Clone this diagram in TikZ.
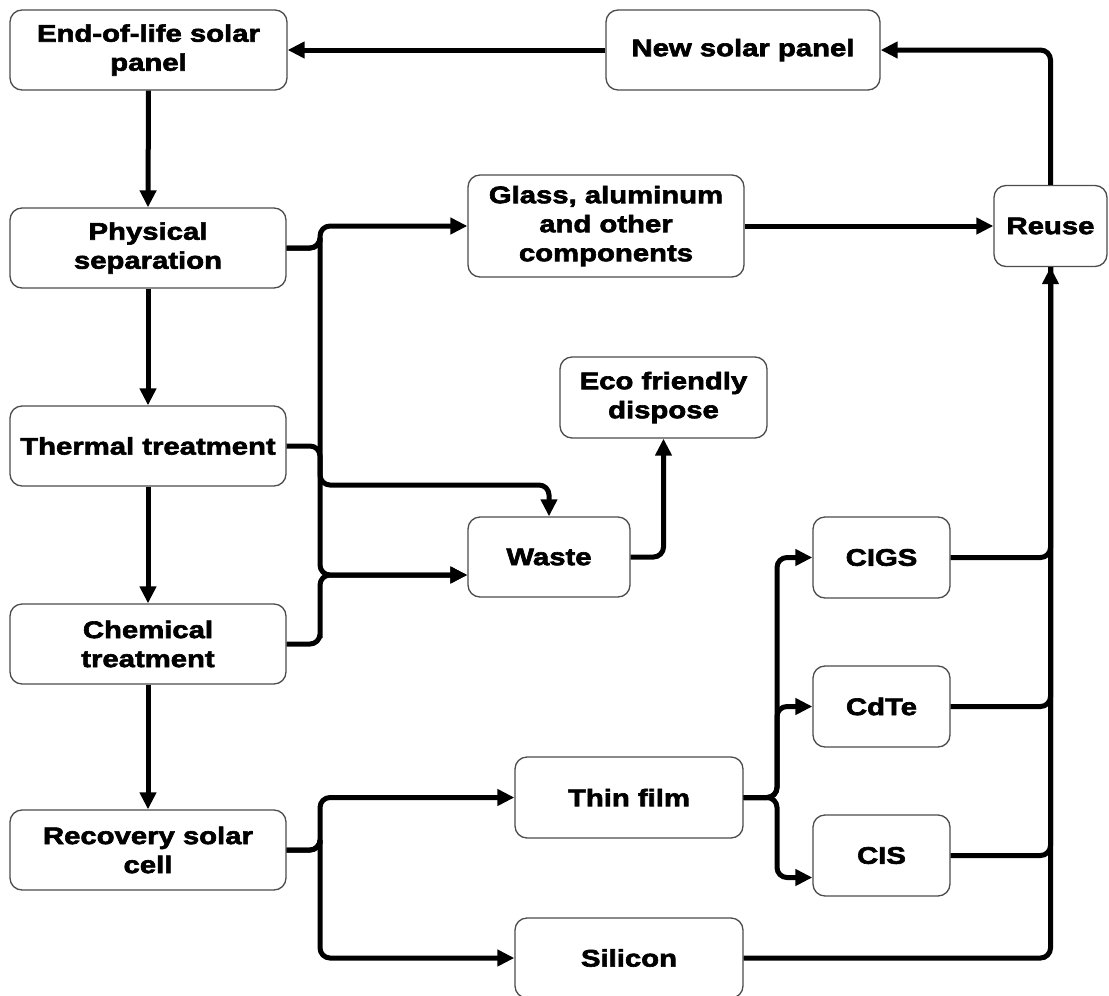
\documentclass[tikz,border=0pt]{standalone}
\usepackage{fontspec}
\newfontfamily\blackfont[FakeStretch=1.22,FakeBold=2.6]{Liberation Sans}
\usetikzlibrary{arrows.meta,calc}
\begin{document}
\begin{tikzpicture}[x=1pt,y=-1pt,
  box/.style={draw=black!70,line width=1.3pt,rounded corners=12pt,fill=white,
    align=center,inner sep=1pt,font=\blackfont\bfseries\fontsize{24}{29}\selectfont},
  conn/.style={line width=5pt,rounded corners=10pt,line cap=butt},
  arr/.style={conn,-{Triangle[length=17pt,width=16pt]}}]
\useasboundingbox (0,0) rectangle (1109,996);
% nodes
\node[box,minimum width=277pt,minimum height=80pt] (eol) at (148.5,50) {End-of-life solar\\panel};
\node[box,minimum width=274pt,minimum height=80pt] (nsp) at (743,50) {New solar panel};
\node[box,minimum width=276pt,minimum height=80pt] (phys) at (148,248) {Physical\\separation};
\node[box,minimum width=276pt,minimum height=102pt] (glass) at (606,226) {Glass, aluminum\\and other\\components};
\node[box,minimum width=113pt,minimum height=81pt] (reuse) at (1050.5,226) {Reuse};
\node[box,minimum width=207pt,minimum height=81pt] (eco) at (663.5,397.5) {Eco friendly\\dispose};
\node[box,minimum width=276pt,minimum height=80pt] (therm) at (148,446) {Thermal treatment};
\node[box,minimum width=162pt,minimum height=80pt] (waste) at (549,557) {Waste};
\node[box,minimum width=276pt,minimum height=80pt] (chem) at (148,644) {Chemical\\treatment};
\node[box,minimum width=137pt,minimum height=81pt] (cigs) at (881.5,557.5) {CIGS};
\node[box,minimum width=137pt,minimum height=81pt] (cdte) at (881.5,706.5) {CdTe};
\node[box,minimum width=137pt,minimum height=81pt] (cis) at (881.5,855.5) {CIS};
\node[box,minimum width=228pt,minimum height=81pt] (thin) at (629,797.5) {Thin film};
\node[box,minimum width=276pt,minimum height=80pt] (rec) at (148,850) {Recovery solar\\cell};
\node[box,minimum width=228pt,minimum height=80pt] (sil) at (629,958) {Silicon};
% bus coordinates
\coordinate (busL) at (320,485);
\coordinate (busT) at (777,797.5);
% main chain
\draw[arr] (nsp.west) -- (eol.east);
\draw[arr] (eol.south) -- (phys.north);
\draw[arr] (phys.south) -- (therm.north);
\draw[arr] (therm.south) -- (chem.north);
\draw[arr] (chem.south) -- (rec.north);
% left bus
\draw[arr] (phys.east) -| (busL |- phys.east) |- (glass.west);
\draw[arr] (phys.east) -| (busL |- phys.east) |- ($(waste.west)+(0,18)$);
\draw[arr] (chem.east) -| (busL |- chem.east) |- ($(waste.west)+(0,18)$);
\draw[arr] (therm.east) -| (busL) -| (waste.north);
\draw[arr] (waste.east) -| (eco.south);
% reuse
\draw[arr] (glass.east) -- (reuse.west);
\draw[arr] (reuse.north) |- (nsp.east);
\draw[conn] (cigs.east) -| (reuse.south);
\draw[conn] (cdte.east) -| (reuse.south);
\draw[conn] (cis.east) -| (reuse.south);
\draw[arr] (sil.east) -| (reuse.south);
% recovery
\draw[arr] (rec.east) -| (busL |- rec.east) |- (thin.west);
\draw[arr] (rec.east) -| (busL |- rec.east) |- (sil.west);
% thin film
\draw[arr] (thin.east) -- (busT) |- (cigs.west);
\draw[arr] (thin.east) -- (busT) |- (cdte.west);
\draw[arr] (thin.east) -- (busT) |- ($(cis.west)+(0,22)$);
\end{tikzpicture}
\end{document}
